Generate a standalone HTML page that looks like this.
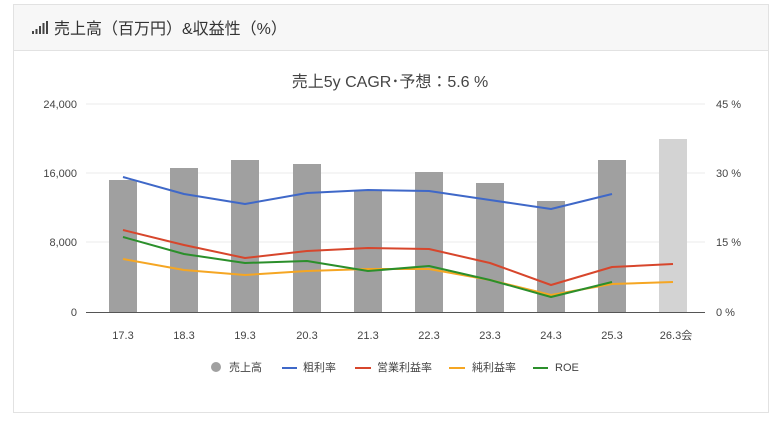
<!DOCTYPE html>
<html><head><meta charset="utf-8"><style>
body{margin:0;width:780px;height:422px;background:#fff;overflow:hidden;font-family:"Liberation Sans","Noto Sans CJK JP",sans-serif;}
</style></head><body>
<svg width="780" height="422" xmlns="http://www.w3.org/2000/svg" font-family="Liberation Sans, Noto Sans CJK JP, sans-serif">
<rect x="13.5" y="4.5" width="755" height="408" fill="#fff" stroke="#e2e2e2"/>
<rect x="14" y="5" width="754" height="45" fill="#f7f7f7"/>
<line x1="14" y1="50.5" x2="768" y2="50.5" stroke="#e2e2e2"/>
<g fill="#444"><rect x="32" y="31" width="2" height="3"/><rect x="35.5" y="29" width="2" height="5"/><rect x="39" y="26" width="2" height="8"/><rect x="42.5" y="23" width="2" height="11"/><rect x="46" y="21" width="2" height="13"/></g>
<text x="54" y="34" font-size="16" fill="#333">売上高（百万円）&amp;収益性（%）</text>
<text x="390" y="87" font-size="16" fill="#444" text-anchor="middle">売上5y CAGR･予想：5.6 %</text>
<g stroke="#ebebeb"><line x1="86" y1="104" x2="705" y2="104"/><line x1="86" y1="173" x2="705" y2="173"/><line x1="86" y1="242" x2="705" y2="242"/></g>
<g font-size="11" fill="#444" text-anchor="end"><text x="77" y="108">24,000</text><text x="77" y="177">16,000</text><text x="77" y="246">8,000</text><text x="77" y="316">0</text></g>
<g font-size="11" fill="#444"><text x="716" y="108">45 %</text><text x="716" y="177">30 %</text><text x="716" y="246">15 %</text><text x="716" y="316">0 %</text></g>
<g fill="#a0a0a0">
<rect x="109" y="180" width="28" height="132"/><rect x="170" y="168" width="28" height="144"/><rect x="231" y="160" width="28" height="152"/><rect x="293" y="164" width="28" height="148"/><rect x="354" y="190" width="28" height="122"/><rect x="415" y="172" width="28" height="140"/><rect x="476" y="183" width="28" height="129"/><rect x="537" y="201" width="28" height="111"/><rect x="598" y="160" width="28" height="152"/></g>
<rect x="659" y="139" width="28" height="173" fill="#d3d3d3"/>
<line x1="86" y1="312.5" x2="705" y2="312.5" stroke="#555"/>
<g fill="none" stroke-width="2" stroke-linejoin="round">
<polyline stroke="#3f68c8" points="123,177 184,194 245,204 307,193 368,190 429,191 490,200 551,209 612,194"/>
<polyline stroke="#d7462c" points="123,230 184,245 245,258 307,251 368,248 429,249 490,263 551,285 612,267 673,264"/>
<polyline stroke="#f5a623" points="123,259 184,270 245,275 307,271 368,269 429,269 490,280 551,295 612,284 673,282"/>
<polyline stroke="#2b8f2b" points="123,237 184,254 245,263 307,261 368,271 429,266 490,280 551,297 612,282"/>
</g>
<g font-size="11" fill="#444" text-anchor="middle"><text x="123" y="339">17.3</text><text x="184" y="339">18.3</text><text x="245" y="339">19.3</text><text x="307" y="339">20.3</text><text x="368" y="339">21.3</text><text x="429" y="339">22.3</text><text x="490" y="339">23.3</text><text x="551" y="339">24.3</text><text x="612" y="339">25.3</text><text x="676" y="339">26.3会</text></g>
<g font-size="11" fill="#444">
<circle cx="216" cy="367" r="5" fill="#a0a0a0"/><text x="229" y="371">売上高</text>
<line x1="282" y1="368" x2="297" y2="368" stroke="#3f68c8" stroke-width="2"/><text x="303" y="371">粗利率</text>
<line x1="355" y1="368" x2="371" y2="368" stroke="#d7462c" stroke-width="2"/><text x="377" y="371">営業利益率</text>
<line x1="449" y1="368" x2="465" y2="368" stroke="#f5a623" stroke-width="2"/><text x="472" y="371">純利益率</text>
<line x1="533" y1="368" x2="548" y2="368" stroke="#2b8f2b" stroke-width="2"/><text x="555" y="371">ROE</text>
</g>
</svg>
</body></html>
